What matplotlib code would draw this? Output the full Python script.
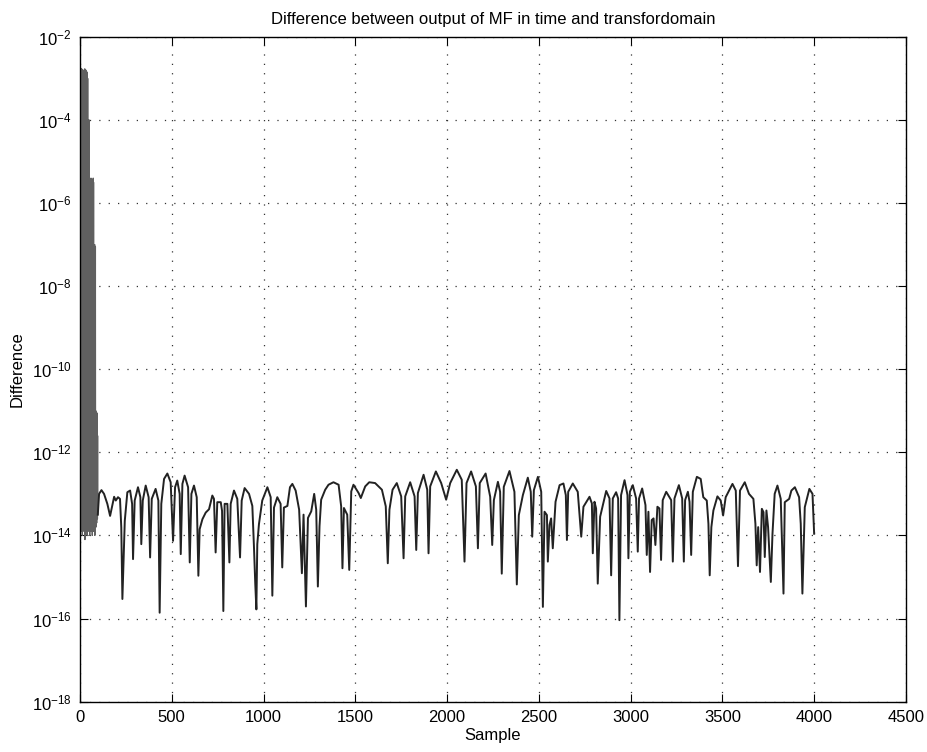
import numpy as np
import matplotlib
matplotlib.use('Agg')
import matplotlib.pyplot as plt
from matplotlib.ticker import NullLocator

plt.rcParams['font.family'] = ['Liberation Sans', 'DejaVu Sans']
plt.rcParams['mathtext.default'] = 'regular'

# dense start of the record (log10 of difference), tops at even samples 4..96, bottoms at odd 5..97
band_hi = [-2.9, -2.76, -2.8, -3.0, -2.78, -2.85, -2.95, -2.8, -3.1, -2.82,
           -2.9, -2.77, -3.0, -2.85, -2.8, -2.95, -3.05, -2.9, -2.85, -3.0,
           -4.0, -4.1, -4.05, -4.0,
           -5.4, -5.5, -5.45, -5.6, -5.4, -5.5, -5.7, -5.45, -5.5, -5.6, -5.4, -5.5,
           -7.0, -7.1, -7.0, -7.2, -7.05,
           -11.0, -11.1, -11.3, -11.05, -11.2, -11.6]
band_lo = [-13.8, -13.6, -13.9, -13.7, -14.0, -13.6, -13.8, -13.5, -13.9, -13.7,
           -13.6, -14.1, -13.8, -13.7, -13.9, -13.6, -13.8, -14.0, -13.7, -13.6,
           -13.9, -13.5, -13.8, -13.7, -14.0, -13.6, -13.8, -13.9, -13.7, -13.6,
           -13.8, -14.0, -13.5, -13.7, -13.9, -13.6, -13.8, -13.7, -14.0, -13.6,
           -13.5, -13.8, -13.6, -13.7, -13.5, -13.6, -13.5]

# rest of the record: sample index and log10 of difference
main_samples = [
    104, 117, 131, 149, 164, 186, 195, 207, 218, 225, 231, 235, 244, 258, 273,
    284, 289, 298, 316, 329, 334, 342, 358, 374, 382, 391, 412, 427, 434, 443,
    458, 476, 494, 507, 518, 530, 543, 549, 558, 570, 589, 598, 607, 621, 636,
    645, 652, 667, 685, 703, 721, 730, 739, 748, 767, 774, 781, 788, 803, 814,
    821, 839, 857, 872, 881, 897, 921, 939, 948, 955, 961, 966, 975, 993, 1021,
    1039, 1048, 1057, 1075, 1093, 1102, 1111, 1130, 1144, 1157, 1175,
    1194, 1209, 1218, 1231, 1242, 1260, 1276, 1287, 1296, 1305, 1314, 1336, 1354,
    1381, 1409, 1423, 1430, 1438, 1456, 1467, 1478, 1490, 1518, 1530, 1554, 1576,
    1608, 1645, 1666, 1677, 1686, 1703, 1726, 1750, 1763, 1772, 1799, 1823, 1832,
    1841, 1872, 1892, 1899, 1908, 1939, 1968, 1995, 2017, 2053, 2080, 2095, 2106,
    2131, 2157, 2168, 2178,
    2210, 2235, 2246, 2255, 2277, 2289, 2298, 2309, 2340, 2367, 2380, 2391, 2413,
    2440, 2456, 2464, 2473, 2495, 2513, 2522, 2531, 2544, 2549, 2558, 2567, 2576,
    2591, 2613, 2634, 2647, 2653, 2660, 2685, 2712, 2731, 2743, 2776, 2789, 2794,
    2803, 2812, 2821, 2834, 2867, 2885, 2894, 2903, 2921, 2932, 2939, 2948, 2967,
    2983, 2988, 2996, 3012, 3030, 3039, 3046, 3063, 3081, 3088, 3097, 3106, 3115,
    3125, 3135, 3146, 3157, 3166, 3175, 3194, 3221, 3230, 3239, 3263, 3281, 3290,
    3297, 3312, 3321, 3330, 3339, 3361,
    3382, 3396, 3415, 3424, 3431, 3440, 3451, 3473, 3491, 3504, 3518, 3555, 3573,
    3585, 3596, 3622, 3645, 3669, 3680, 3687, 3695, 3705, 3715, 3724, 3731, 3740,
    3749, 3764, 3773, 3785, 3800, 3818, 3833, 3840, 3864, 3876, 3895, 3918, 3927,
    3936, 3949, 3974, 3991, 4000]
main_exp = [
    -13.0, -12.91, -13.0, -13.24, -13.53, -13.07, -13.16, -13.08, -13.12, -13.81,
    -15.53, -14.93, -13.65, -12.96, -12.92, -13.24, -14.57, -13.16, -12.84, -13.08,
    -14.21, -13.16, -12.80, -13.08, -14.53, -13.12, -12.88, -13.16, -15.86, -13.24,
    -12.64, -12.51, -12.72, -14.13, -12.84, -12.68, -13.0, -14.45, -12.76, -12.56,
    -12.84, -14.65, -13.0, -12.80, -13.08, -14.97, -13.85, -13.61, -13.45, -13.37,
    -13.04, -13.12, -14.41, -13.2, -13.2, -13.41, -15.82, -13.24, -13.24, -14.65,
    -13.24, -12.92, -13.12, -14.53, -13.16, -12.86, -13.0, -13.29, -14.29, -15.17,
    -15.78, -14.21, -13.73, -13.16, -12.84, -13.08, -15.45, -13.33, -13.08, -13.24,
    -14.77, -13.33, -13.29, -12.84, -12.76, -12.92,
    -13.38, -14.91, -13.50, -15.71, -13.58, -13.42, -13.0, -13.38, -15.23, -13.78,
    -13.14, -12.90, -12.78, -12.72, -12.78, -13.30, -14.79, -13.34, -13.50, -14.83,
    -12.94, -12.78, -12.98, -13.10, -12.82, -12.72, -12.74, -12.90, -13.30, -14.67,
    -13.38, -12.90, -12.74, -13.06, -14.55, -13.06, -12.72, -13.06, -14.35, -12.98,
    -12.54, -12.90, -14.43, -12.82, -12.46, -12.74, -13.14, -12.74, -12.42, -12.66,
    -14.63, -12.74, -12.46, -12.82, -14.31, -12.74,
    -12.51, -13.07, -14.23, -13.15, -12.71, -12.95, -14.92, -12.83, -12.45, -12.95,
    -15.18, -13.51, -13.03, -12.61, -12.95, -14.03, -12.91, -12.59, -12.95, -15.72,
    -13.43, -13.51, -14.63, -13.75, -13.59, -14.31, -13.19, -12.79, -12.75, -13.03,
    -14.11, -12.95, -12.75, -12.95, -14.03, -13.31, -13.07, -13.23, -14.43, -13.19,
    -13.35, -15.16, -13.55, -12.93, -13.11, -14.96, -13.11, -12.96, -13.11, -16.04,
    -13.03, -12.67, -13.03, -14.55, -12.95, -12.79, -13.11, -14.39, -13.11, -12.87,
    -13.27, -14.47, -13.43, -14.88, -13.63, -13.59, -14.23, -13.31, -13.35, -14.59,
    -13.15, -12.95, -13.15, -14.63, -13.11, -12.79, -13.11, -14.63, -13.15, -12.95,
    -13.19, -14.47, -12.95, -12.59,
    -12.64, -13.08, -13.16, -13.72, -14.96, -13.80, -13.40, -13.06, -13.16, -13.52,
    -13.08, -12.76, -12.92, -14.74, -12.92, -12.72, -13.0, -13.12, -13.72, -14.72,
    -13.80, -14.88, -13.36, -13.44, -14.52, -13.40, -13.80, -15.12, -13.96, -13.0,
    -12.80, -13.12, -15.40, -13.20, -13.12, -12.92, -12.84, -13.08, -13.72, -15.40,
    -13.32, -12.88, -13.0, -13.96]

band_x = []
band_e = []
for i in range(len(band_hi)):
    band_x += [4 + 2 * i, 5 + 2 * i]
    band_e += [band_hi[i], band_lo[i]]

line_x = [band_x[-1]] + main_samples
line_e = [band_e[-1]] + main_exp

fig = plt.figure(figsize=(9.28, 7.52), dpi=100)
ax = fig.add_axes([0.0862, 0.067, 0.890, 0.884])

ax.semilogy(band_x, 10.0 ** np.array(band_e), color='#606060', lw=0.9)
ax.semilogy(line_x, 10.0 ** np.array(line_e), color='#222222', lw=1.4)

ax.set_xlim(0, 4500)
ax.set_ylim(1e-18, 1e-2)
ax.set_xticks(range(0, 4501, 500))
ax.set_yticks([10.0 ** k for k in range(-18, -1, 2)])
ax.yaxis.set_minor_locator(NullLocator())
ax.grid(True, linestyle=(0, (1, 6.5)), color='#333333', lw=0.9)
ax.tick_params(direction='in', top=True, right=True, length=6, width=0.8,
               labelsize=12, pad=6)
for s in ax.spines.values():
    s.set_linewidth(1.0)

ax.set_title('Difference between output of MF in time and transfordomain',
             fontsize=12, pad=9)
ax.set_xlabel('Sample', fontsize=12, labelpad=2)
ax.set_ylabel('Difference', fontsize=12, labelpad=5)

fig.savefig('out.png', dpi=100)
